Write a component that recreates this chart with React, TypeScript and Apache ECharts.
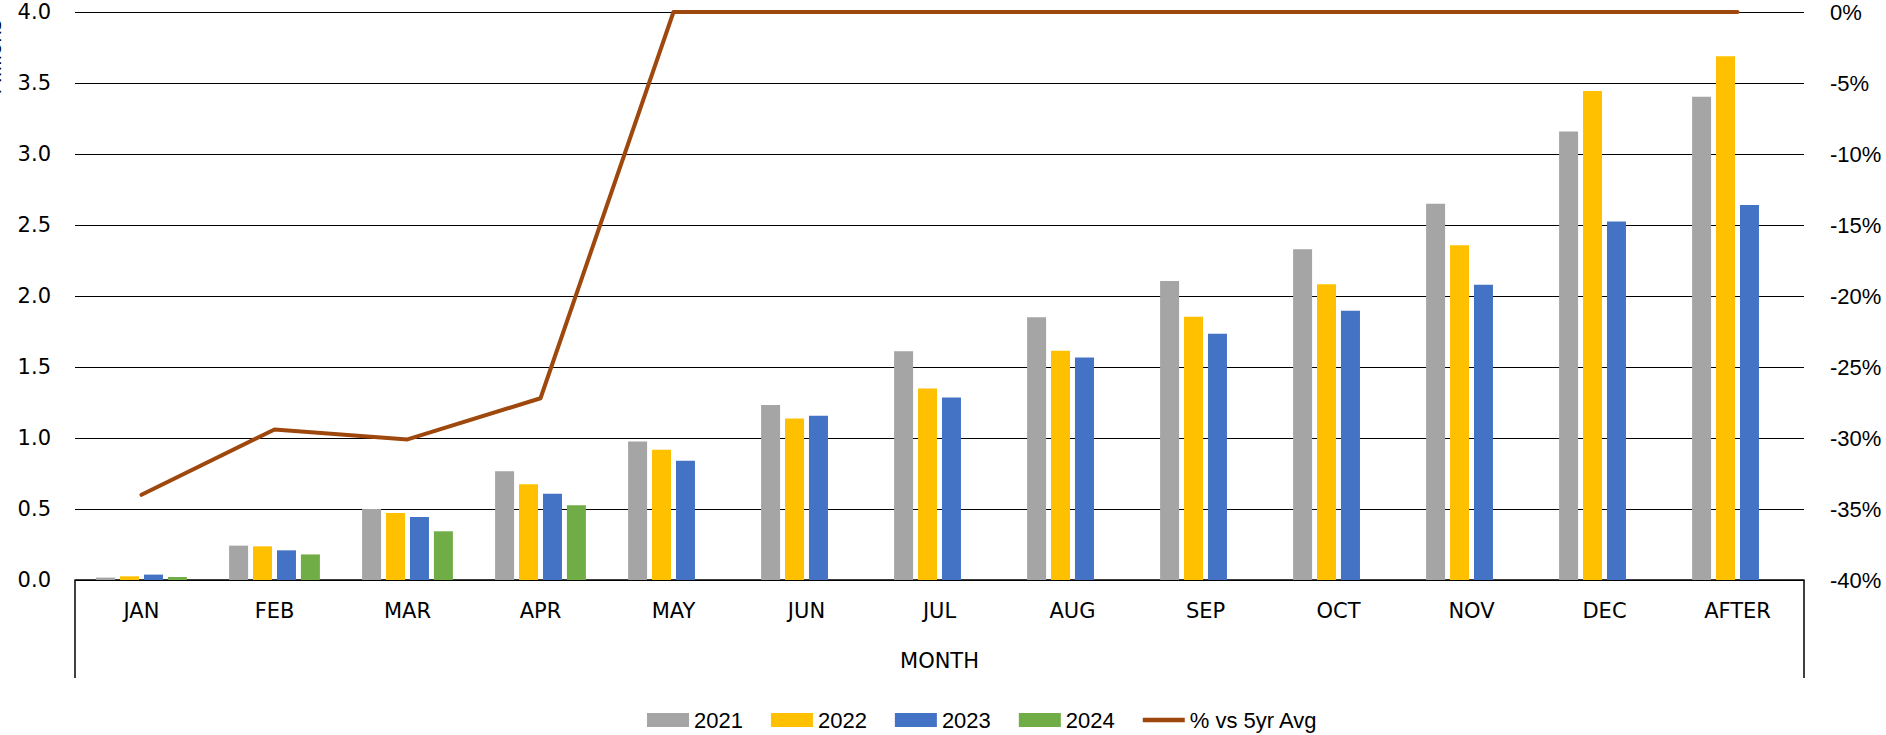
import React, { useEffect, useRef } from "react";
import * as echarts from "echarts";

const months = ["JAN", "FEB", "MAR", "APR", "MAY", "JUN", "JUL", "AUG", "SEP", "OCT", "NOV", "DEC", "AFTER"];
const v2021 = [0.017, 0.242, 0.5, 0.766, 0.976, 1.233, 1.611, 1.851, 2.106, 2.329, 2.65, 3.158, 3.403];
const v2022 = [0.026, 0.237, 0.472, 0.674, 0.917, 1.137, 1.349, 1.614, 1.854, 2.082, 2.357, 3.443, 3.688];
const v2023 = [0.038, 0.209, 0.444, 0.608, 0.84, 1.156, 1.285, 1.567, 1.734, 1.896, 2.08, 2.525, 2.641];
const v2024 = [0.021, 0.18, 0.343, 0.526, null, null, null, null, null, null, null, null, null];
const pctVs5yr = [-34.0, -29.4, -30.1, -27.2, 0, 0, 0, 0, 0, 0, 0, 0, 0];
const leftTicks = { min: 0, max: 4, interval: 0.5 };
const rightTicks = { min: -40, max: 0, interval: 5 };

const W = 1886;
const H = 735;
const GL = 75;
const GR = 82;
const GT = 12;
const GB = 155;

export default function App() {
  const ref = useRef<HTMLDivElement>(null);
  useEffect(() => {
    if (!ref.current) return;
    const chart = echarts.init(ref.current, undefined, { renderer: "svg", width: W, height: H });
    const axisFont = "DejaVu Sans";
    const sans = "'Liberation Sans', sans-serif";
    const barSeries = (name: string, data: (number | null)[], color: string) => ({
      name,
      type: "bar",
      data,
      barWidth: 19,
      barGap: "26%",
      itemStyle: { color },
      yAxisIndex: 0,
    });
    const zeroY = H - GB;
    chart.setOption({
      animation: false,
      backgroundColor: "#ffffff",
      grid: { left: GL, right: GR, top: GT, bottom: GB, containLabel: false },
      legend: {
        left: 647,
        top: 709,
        padding: 0,
        itemWidth: 42,
        itemHeight: 14,
        itemGap: 28,
        textStyle: { fontFamily: sans, fontSize: 22, color: "#000" },
        data: [
          { name: "2021", icon: "rect" },
          { name: "2022", icon: "rect" },
          { name: "2023", icon: "rect" },
          { name: "2024", icon: "rect" },
          { name: "% vs 5yr Avg", icon: "path://M0,0 L42,0 L42,4.5 L0,4.5 Z" },
        ],
      },
      xAxis: {
        type: "category",
        data: months,
        name: "MONTH",
        nameLocation: "middle",
        nameGap: 70,
        nameTextStyle: { fontFamily: axisFont, fontSize: 21, color: "#000" },
        axisLine: { show: true, lineStyle: { color: "#000", width: 1.5 } },
        axisTick: { show: false },
        axisLabel: { fontFamily: axisFont, fontSize: 21, color: "#000", margin: 20 },
      },
      yAxis: [
        {
          type: "value",
          min: leftTicks.min,
          max: leftTicks.max,
          interval: leftTicks.interval,
          axisLine: { show: false },
          axisTick: { show: false },
          splitLine: { show: true, lineStyle: { color: "#000", width: 1.2 } },
          axisLabel: {
            fontFamily: axisFont,
            fontSize: 21,
            color: "#000",
            margin: 24,
            formatter: (v: number) => v.toFixed(1),
          },
        },
        {
          type: "value",
          position: "right",
          min: rightTicks.min,
          max: rightTicks.max,
          interval: rightTicks.interval,
          axisLine: { show: false },
          axisTick: { show: false },
          splitLine: { show: false },
          axisLabel: {
            fontFamily: sans,
            fontSize: 22,
            color: "#000",
            margin: 26,
            formatter: (v: number) => `${v}%`,
          },
        },
      ],
      series: [
        barSeries("2021", v2021, "#A5A5A5"),
        barSeries("2022", v2022, "#FFC000"),
        barSeries("2023", v2023, "#4472C4"),
        barSeries("2024", v2024, "#70AD47"),
        {
          name: "% vs 5yr Avg",
          type: "line",
          yAxisIndex: 1,
          data: pctVs5yr,
          symbol: "none",
          itemStyle: { color: "#9E480E" },
          lineStyle: { color: "#9E480E", width: 4, cap: "round", join: "round" },
          z: 5,
        },
      ],
      graphic: [
        {
          type: "line",
          shape: { x1: GL, y1: zeroY, x2: GL, y2: zeroY + 98 },
          style: { stroke: "#000", lineWidth: 1.5 },
        },
        {
          type: "line",
          shape: { x1: W - GR, y1: zeroY, x2: W - GR, y2: zeroY + 98 },
          style: { stroke: "#000", lineWidth: 1.5 },
        },
        {
          type: "text",
          x: 4,
          y: 57,
          rotation: Math.PI / 2,
          style: {
            text: "Millions",
            fontFamily: axisFont,
            fontSize: 20,
            fill: "#000",
            align: "center",
            verticalAlign: "bottom",
          },
        },
      ],
    });
    return () => chart.dispose();
  }, []);
  return (
    <div
      ref={ref}
      style={{ position: "fixed", left: 0, top: 0, width: W, height: H, background: "#fff" }}
    />
  );
}
